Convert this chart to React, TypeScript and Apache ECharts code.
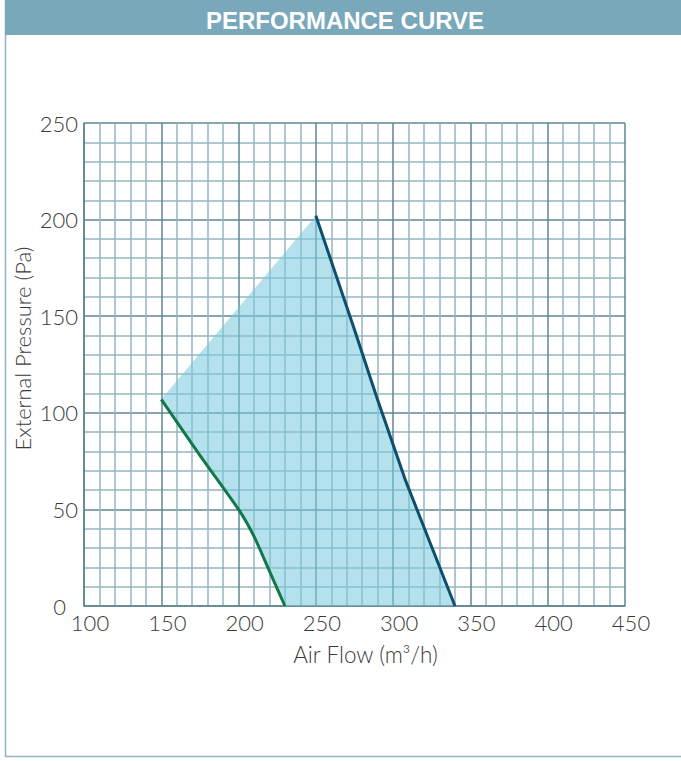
import React, { useEffect, useRef } from "react";
import * as echarts from "echarts";

const title = "PERFORMANCE CURVE";
const xAxisName = "Air Flow (m³/h)";
const yAxisName = "External Pressure (Pa)";

// max curve (dark blue)
const maxCurve: [number, number][] = [
  [250, 202],
  [275, 143],
  [289, 109],
  [308, 65],
  [340, 0],
];
// min curve (green)
const minCurve: [number, number][] = [
  [150, 107],
  [175, 78],
  [200, 50],
  [210, 36],
  [220, 18],
  [230, 0],
];

export default function App() {
  const ref = useRef<HTMLDivElement>(null);
  useEffect(() => {
    if (!ref.current) return;
    const chart = echarts.init(ref.current, undefined, { renderer: "svg" });
    const polygon: [number, number][] = [
      ...maxCurve,
      ...[...minCurve].reverse(),
    ];
    const labelFont = {
      fontFamily: "Lato, 'DejaVu Sans', sans-serif",
      fontWeight: 300,
      color: "#3a3a3a",
    };
    chart.setOption({
      animation: false,
      backgroundColor: "#ffffff",
      graphic: [
        {
          type: "rect",
          shape: { x: 5.5, y: 0.5, width: 680, height: 756 },
          style: { fill: "none", stroke: "#8fb5c5", lineWidth: 1.5 },
          z: 0,
        },
        {
          type: "rect",
          shape: { x: 5, y: 0, width: 676, height: 35 },
          style: { fill: "#7aa8bb" },
          z: 1,
        },
        {
          type: "text",
          x: 345,
          y: 20,
          style: {
            text: title,
            fill: "#ffffff",
            font: "bold 24px 'Liberation Sans', Arial, sans-serif",
            textAlign: "center",
            textVerticalAlign: "middle",
          },
          z: 2,
        },
      ],
      grid: { left: 84, right: 56, top: 123, bottom: 155, outerBoundsMode: "none", containLabel: false },
      xAxis: {
        type: "value",
        min: 100,
        max: 450,
        interval: 50,
        name: xAxisName,
        nameLocation: "middle",
        nameGap: 37,
        nameMoveOverlap: false,
        nameTextStyle: { ...labelFont, fontSize: 22.5, padding: [0, 0, 0, 22] },
        axisLine: { show: true, lineStyle: { color: "#5e8690", width: 1.5 } },
        axisTick: { show: false },
        axisLabel: { ...labelFont, fontSize: 22, margin: 5, padding: [0, 0, 0, 12] },
        splitLine: { show: true, lineStyle: { color: "#5f8791", width: 1.5 } },
        minorTick: { show: false, splitNumber: 5 },
        minorSplitLine: { show: true, lineStyle: { color: "#94b4be", width: 1.5 } },
      },
      yAxis: {
        type: "value",
        min: 0,
        max: 250,
        interval: 50,
        name: yAxisName,
        nameLocation: "middle",
        nameGap: 51,
        nameMoveOverlap: false,
        nameTextStyle: { ...labelFont, fontSize: 22, padding: [0, 0, 0, 32] },
        axisLine: { show: true, lineStyle: { color: "#5e8690", width: 1.5 } },
        axisTick: { show: false },
        axisLabel: {
          ...labelFont,
          fontSize: 22,
          margin: 6,
          formatter: (v: number) => (v === 0 ? "{z|0}" : String(v)),
          rich: { z: { ...labelFont, fontSize: 22, padding: [0, 12, 0, 0] } },
        },
        splitLine: { show: true, lineStyle: { color: "#5f8791", width: 1.5 } },
        minorTick: { show: false, splitNumber: 5 },
        minorSplitLine: { show: true, lineStyle: { color: "#94b4be", width: 1.5 } },
      },
      series: [
        {
          type: "custom",
          data: polygon,
          renderItem: (params: any, api: any) => {
            if (params.dataIndex !== 0) return null;
            const pts = polygon.map((p) => api.coord(p));
            return {
              type: "polygon",
              shape: { points: pts },
              style: { fill: "rgba(120,200,222,0.55)" },
            };
          },
          z: 1,
        },
        {
          type: "line",
          data: maxCurve,
          symbol: "none",
          lineStyle: { color: "#0c4f6e", width: 3 },
          z: 3,
        },
        {
          type: "line",
          data: minCurve,
          symbol: "none",
          smooth: 0.2,
          lineStyle: { color: "#11784a", width: 3 },
          z: 3,
        },
      ],
    });
    return () => chart.dispose();
  }, []);
  return (
    <div
      ref={ref}
      style={{ position: "fixed", left: 0, top: 0, width: 681, height: 761 }}
    />
  );
}
